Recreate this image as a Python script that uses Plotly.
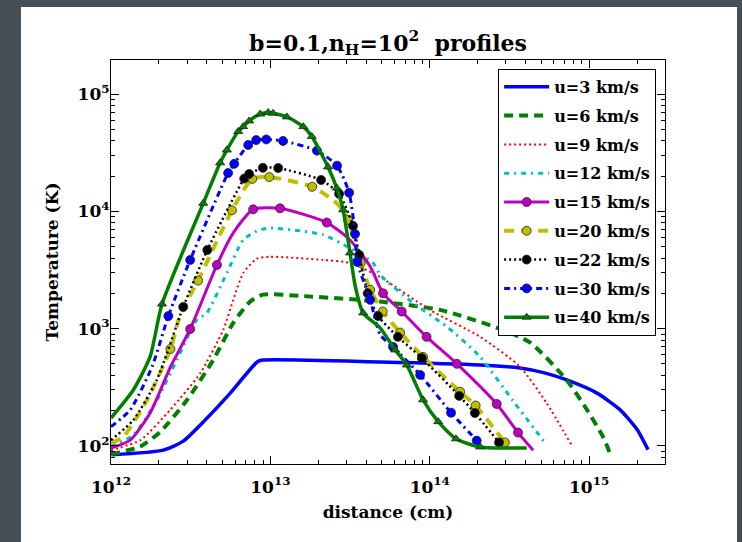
import plotly.graph_objects as go

# distance (cm) and temperature (K), one pair per curve
d_u3 = [1.01e12, 2.13e12, 2.84e12, 3.89e12, 5.6e12, 8.26e12, 8.9e12, 4.9e13, 2.07e14, 3.68e14, 5.25e14, 7.24e14, 1.12e15, 1.56e15, 2.0e15, 2.34e15]
t_u3 = [84, 92, 110, 166, 282, 520, 540, 520, 490, 462, 420, 365, 282, 204, 138, 93]

d_u6 = [1.0e12, 1.53e12, 2.04e12, 2.99e12, 4.38e12, 5.85e12, 7.46e12, 9.0e12, 1.55e13, 4.89e13, 1.16e14, 2.63e14, 4.27e14, 7.24e14, 9.68e14, 1.22e15, 1.35e15]
t_u6 = [85, 99, 132, 245, 541, 1120, 1700, 1950, 1900, 1700, 1445, 1020, 760, 363, 204, 120, 87]

d_u9 = [1.0e12, 1.53e12, 2.36e12, 3.63e12, 5.06e12, 5.85e12, 6.76e12, 8.22e12, 9.98e12, 2.14e13, 3.16e13, 4.89e13, 1.0e14, 2.07e14, 3.68e14, 5.41e14, 7.76e14]
t_u9 = [92, 112, 204, 417, 977, 1760, 2985, 3950, 4100, 3850, 3630, 2750, 1445, 851, 474, 232, 102]

d_u12 = [1.0e12, 1.38e12, 1.94e12, 2.59e12, 3.46e12, 3.98e12, 5.33e12, 6.75e12, 8.22e12, 9.98e12, 2.14e13, 3.02e13, 4.41e13, 4.89e13, 7.85e13, 1.28e14, 2.07e14, 3.31e14, 5.41e14]
t_u12 = [99, 124, 245, 541, 1190, 1350, 2985, 5700, 6800, 7200, 6310, 5010, 3630, 2870, 1660, 1040, 575, 245, 102]

d_u15 = [1.0e12, 1.32e12, 1.76e12, 2.36e12, 3.14e12, 4.62e12, 5.85e12, 7.8e12, 1.15e13, 2.26e13, 3.16e13, 4.23e13, 5.09e13, 6.67e13, 9.55e13, 1.48e14, 2.63e14, 3.58e14, 4.45e14]
t_u15 = [96, 112, 191, 471, 993, 3490, 6550, 10400, 10600, 8020, 5700, 3390, 2000, 1400, 851, 501, 228, 130, 92]
m_u15 = [4, 5, 7, 8, 9, 12, 13, 14, 15, 16, 17]

d_u20 = [1.0e12, 1.19e12, 1.68e12, 2.36e12, 2.72e12, 3.52e12, 5.74e12, 7.69e12, 9.84e12, 1.83e13, 2.61e13, 3.08e13, 3.69e13, 4.23e13, 5.07e13, 6.52e13, 9.08e13, 1.55e14, 1.94e14, 2.96e14, 3.09e14]
t_u20 = [106, 119, 245, 671, 1310, 2570, 10200, 18900, 19600, 16200, 11700, 8450, 3630, 2140, 1400, 925, 574, 290, 221, 107, 100]
m_u20 = [3, 5, 6, 7, 8, 9, 11, 12, 13, 14, 15, 16, 17, 18, 19]

d_u22 = [1.0e12, 1.38e12, 1.94e12, 2.84e12, 4.02e12, 6.85e12, 7.36e12, 8.97e12, 1.12e13, 2.08e13, 2.7e13, 3.3e13, 3.61e13, 4.08e13, 4.74e13, 6.31e13, 8.91e13, 1.53e14, 1.92e14, 2.72e14]
t_u22 = [112, 166, 366, 1530, 4680, 19000, 20800, 23500, 23400, 18500, 14100, 7520, 4250, 2000, 1280, 851, 562, 267, 191, 107]
m_u22 = list(range(3, 20))

d_u30 = [1.0e12, 1.32e12, 1.81e12, 2.29e12, 3.14e12, 5.43e12, 5.93e12, 7.26e12, 8.15e12, 9.42e12, 1.2e13, 1.96e13, 2.62e13, 3.12e13, 3.4e13, 3.5e13, 4.23e13, 4.89e13, 5.89e13, 8.71e13, 1.36e14, 1.97e14, 2.07e14]
t_u30 = [146, 203, 474, 1280, 3850, 21200, 25400, 36800, 40500, 41000, 39800, 32900, 24500, 14400, 6410, 3720, 1760, 883, 698, 403, 192, 111, 102]
m_u30 = [3, 4, 5, 6, 7, 8, 9, 10, 11, 12, 13, 14, 15, 16, 18, 19, 20, 21]

d_u40 = [1.0e12, 1.38e12, 1.76e12, 2.09e12, 3.79e12, 4.84e12, 5.33e12, 6.28e12, 6.75e12, 7.36e12, 8.63e12, 9.68e12, 1.04e13, 1.27e13, 1.61e13, 1.82e13, 2.3e13, 2.61e13, 2.86e13, 3.16e13, 3.4e13, 3.82e13, 4.89e13, 6.07e13, 7.18e13, 9.08e13, 1.13e14, 1.46e14, 2.07e14, 4.06e14]
t_u40 = [173, 300, 577, 1620, 11700, 25900, 33300, 47900, 52700, 59000, 67500, 69500, 68500, 63800, 52700, 43400, 23900, 15800, 10300, 4420, 2340, 1360, 1010, 658, 490, 247, 161, 115, 98, 96]
m_u40 = [3, 4, 5, 6, 7, 8, 9, 10, 11, 12, 13, 14, 15, 16, 17, 18, 19, 21, 23, 24, 25, 26, 27, 28]

x_ticks = [1e12, 1e13, 1e14, 1e15]
x_labels = ['10<sup>12</sup>', '10<sup>13</sup>', '10<sup>14</sup>', '10<sup>15</sup>']
y_ticks = [1e2, 1e3, 1e4, 1e5]
y_labels = ['10<sup>2</sup>', '10<sup>3</sup>', '10<sup>4</sup>', '10<sup>5</sup>']

FONT = 'DejaVu Serif'

# name, x, y, marker indices, colour, dash, width, symbol
curves = [
    ('u=3 km/s', d_u3, t_u3, None, '#0000ff', 'solid', 3.5, None),
    ('u=6 km/s', d_u6, t_u6, None, '#008000', '9px,6px', 4, None),
    ('u=9 km/s', d_u9, t_u9, None, '#ff0000', '2px,3px', 2, None),
    ('u=12 km/s', d_u12, t_u12, None, '#00bfbf', '5px,5px,2px,5px', 3, None),
    ('u=15 km/s', d_u15, t_u15, m_u15, '#bf00bf', 'solid', 3, 'circle'),
    ('u=20 km/s', d_u20, t_u20, m_u20, '#bfbf00', '10px,7px', 4, 'circle'),
    ('u=22 km/s', d_u22, t_u22, m_u22, '#000000', '2px,3px', 2.5, 'circle'),
    ('u=30 km/s', d_u30, t_u30, m_u30, '#0000ff', '6px,4px,2px,4px', 3, 'circle'),
    ('u=40 km/s', d_u40, t_u40, m_u40, '#008000', 'solid', 3.5, 'triangle-up'),
]

fig = go.Figure()

for name, xs, ys, idx, col, dash, lw, sym in curves:
    line = dict(color=col, width=lw, dash=dash, shape='spline', smoothing=0.6)
    if idx is None:
        fig.add_trace(go.Scatter(x=xs, y=ys, mode='lines', name=name, line=line,
                                 legendgroup=name))
        continue
    msize = 8 if sym == 'triangle-up' else 9
    marker = dict(symbol=sym, size=msize, color=col, line=dict(color='#222222', width=0.8))
    fig.add_trace(go.Scatter(x=xs, y=ys, mode='lines', line=line, showlegend=False,
                             legendgroup=name))
    fig.add_trace(go.Scatter(x=[xs[i] for i in idx], y=[ys[i] for i in idx], mode='markers',
                             marker=marker, showlegend=False, legendgroup=name))
    # legend entry carrying both the line and the marker
    fig.add_trace(go.Scatter(x=[None], y=[None], mode='lines+markers', name=name,
                             line=dict(color=col, width=lw, dash=dash), marker=marker,
                             legendgroup=name))

minor_x = [k * 10.0 ** n for n in range(12, 16) for k in range(2, 10)]
minor_y = [k * 10.0 ** n for n in range(1, 6) for k in range(2, 10)]

axis_common = dict(
    showline=True, linecolor='black', linewidth=1.2, mirror='ticks',
    ticks='inside', ticklen=8, tickwidth=1, tickcolor='black',
    showgrid=False, zeroline=False,
    tickfont=dict(family=FONT, size=17, color='black', weight='bold'),
)

fig.update_xaxes(type='log', range=[12, 15.476], tickvals=x_ticks, ticktext=x_labels,
                 minor=dict(ticks='inside', ticklen=4, tickcolor='black', tickvals=minor_x),
                 ticklabelstandoff=7,
                 title=dict(text='distance (cm)', standoff=10,
                            font=dict(family=FONT, size=17, color='black', weight='bold')),
                 **axis_common)
fig.update_yaxes(type='log', range=[1.846, 5.29], tickvals=y_ticks, ticktext=y_labels,
                 minor=dict(ticks='inside', ticklen=4, tickcolor='black', tickvals=minor_y),
                 ticklabelstandoff=-3,
                 title=dict(text='Temperature (K)', standoff=14,
                            font=dict(family=FONT, size=17, color='black', weight='bold')),
                 **axis_common)

fig.update_layout(
    width=742, height=542,
    margin=dict(l=111, r=77, t=60, b=78),
    paper_bgcolor='#454f57',
    plot_bgcolor='white',
    title=dict(text='b=0.1,n<sub>H</sub>=10<sup>2</sup>  profiles', x=0.5, xref='paper',
               y=1 - 43 / 542, yanchor='middle',
               font=dict(family=FONT, size=22, color='black', weight='bold')),
    legend=dict(x=0.984, y=0.978, xanchor='right', yanchor='top',
                bordercolor='black', borderwidth=1, bgcolor='white',
                font=dict(family=FONT, size=16, color='black', weight='bold'),
                itemwidth=45, tracegroupgap=5),
    shapes=[dict(type='rect', xref='paper', yref='paper', layer='below',
                 x0=-0.1625, x1=1.13, y0=-0.193, y1=1.131,
                 fillcolor='white', line=dict(width=0))],
)

# drop the default page margin so the figure sits at the window corner
fig.write_html('out.html', config={'displayModeBar': False},
               post_script="document.body.style.margin='0px';")
